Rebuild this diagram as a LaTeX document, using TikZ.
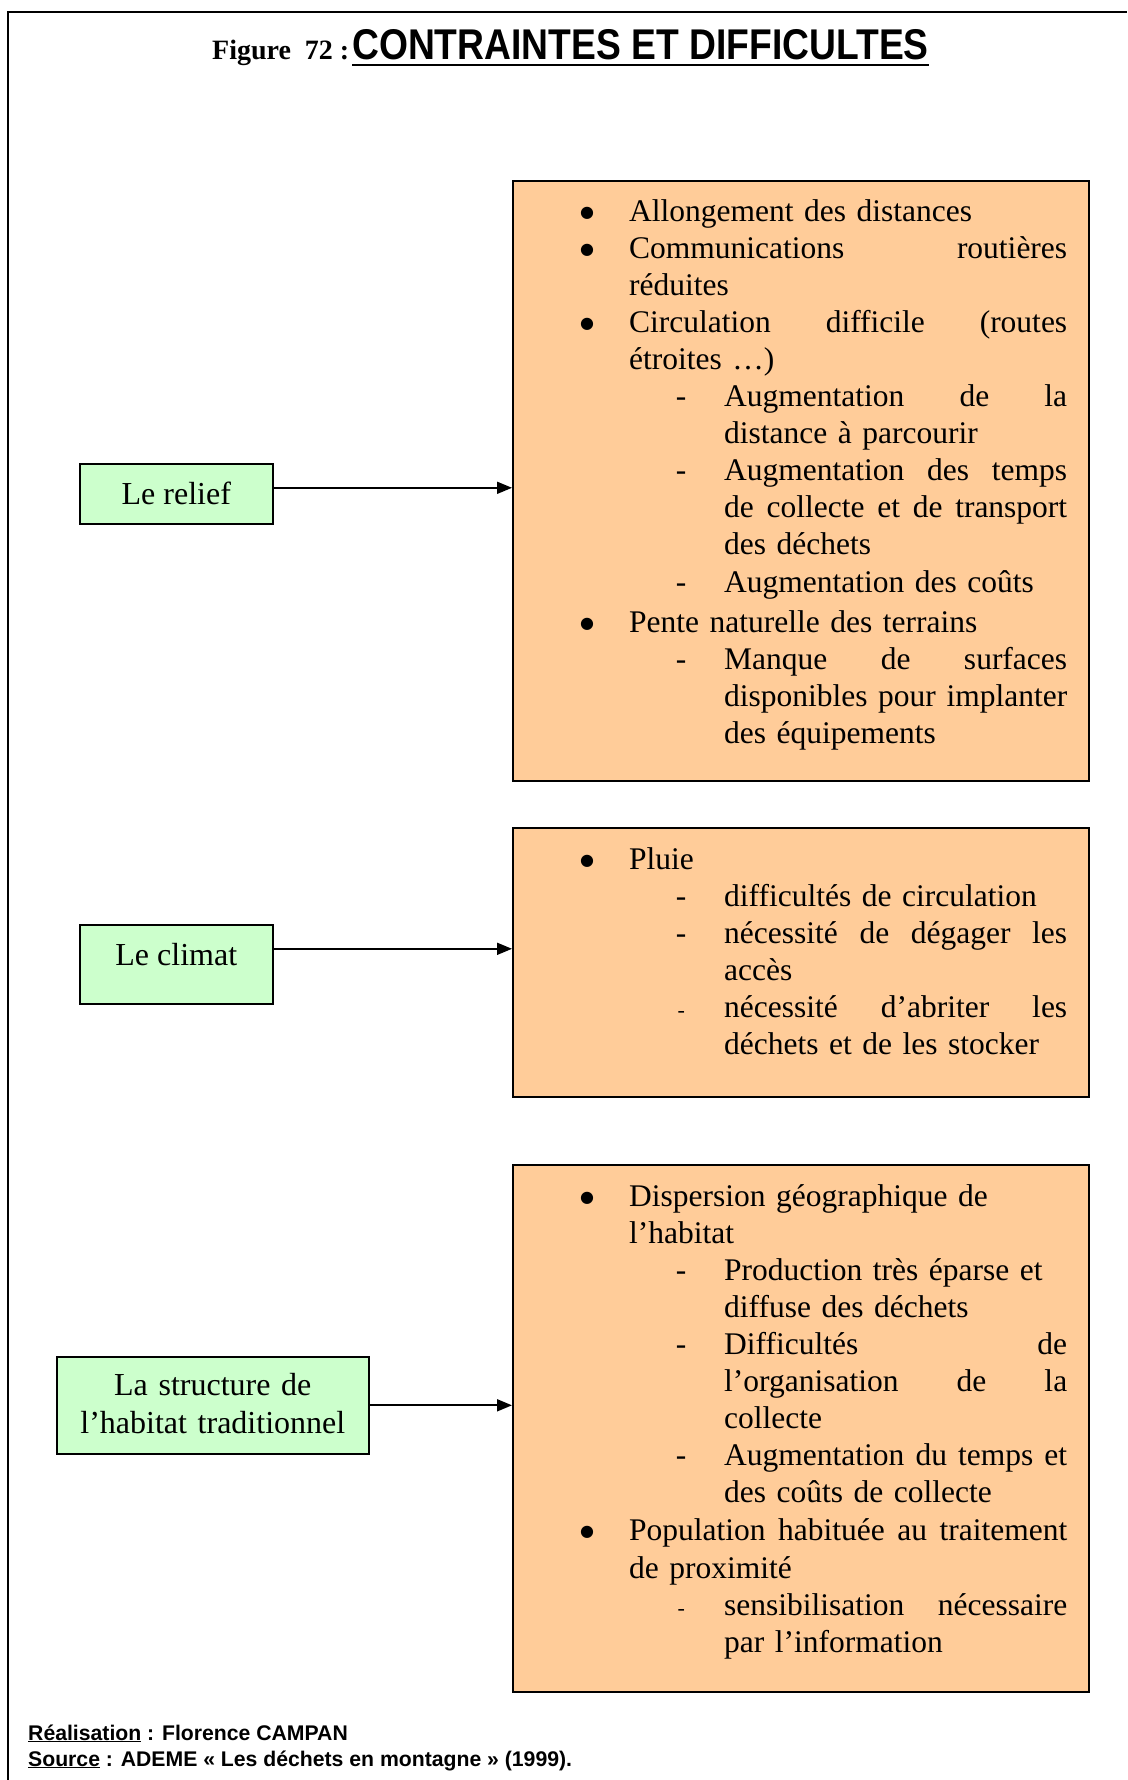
\documentclass[tikz,border=0pt]{standalone}
\usepackage{fontspec}
\setmainfont{Liberation Serif}
\setsansfont{Liberation Sans}
\newfontfamily\symfont{DejaVu Sans}
\usetikzlibrary{arrows.meta,calc}
\definecolor{orangefill}{HTML}{FFCC99}
\definecolor{greenfill}{HTML}{CCFFCC}
\newcommand\Bul{\makebox[0pt][l]{\hspace*{75pt}\makebox[0pt]{\raisebox{4pt}{\symfont\fontsize{16}{16}\selectfont ●}}}\hspace*{117pt}}
\newcommand\Ind{\hspace*{117pt}}
\newcommand\Dsh{\makebox[0pt][l]{\hspace*{169pt}\makebox[0pt]{-}}\hspace*{212pt}}
\newcommand\Dshs{\makebox[0pt][l]{\hspace*{169pt}\makebox[0pt]{\fontsize{22}{22}\selectfont -}}\hspace*{212pt}}
\newcommand\IInd{\hspace*{212pt}}
\newcommand\JA[1]{\hbox to 438pt{#1}}
\newcommand\JB[1]{\hbox to 343pt{#1}}
\newcommand\hf{\hfill\ }
\tikzset{
  obox/.style={draw=black, line width=1.6pt, fill=orangefill, anchor=north west, inner sep=0pt},
  gbox/.style={draw=black, line width=1.6pt, fill=greenfill, anchor=north west, inner sep=0pt},
  body/.style={inner sep=0pt, anchor=base west, text width=576pt,
    font=\fontsize{31.5}{37.1}\selectfont\setlength{\lineskiplimit}{-20pt}},
  gtxt/.style={inner sep=0pt, anchor=base, font=\fontsize{32}{38}\selectfont},
  arr/.style={-{Triangle[length=15pt,width=12pt]}, line width=1.8pt},
  foot/.style={inner sep=0pt, anchor=base west, font=\sffamily\bfseries\fontsize{21.2}{24}\selectfont}
}
\begin{document}
\begin{tikzpicture}[x=1pt,y=1pt]
\useasboundingbox (0,0) rectangle (1127,-1780);
% frame
\draw[line width=2pt] (8,-1780) -- (8,-12) -- (1127,-12);
% title
\node[inner sep=0pt, anchor=base west, font=\bfseries\fontsize{28}{30}\selectfont] (fig) at (212,-59) {Figure\ \ 72 :};
\node[inner sep=0pt, anchor=base west, font=\sffamily\bfseries\fontsize{43}{45}\selectfont] (ttl) at (352,-59) {\scalebox{0.866}[1]{CONTRAINTES ET DIFFICULTES}};
\draw[line width=2.6pt] ([yshift=-6pt]ttl.base west) -- ([yshift=-6pt]ttl.base east);
% orange boxes
\node[obox, minimum width=576pt, minimum height=600pt] (b1) at (512,-180) {};
\node[obox, minimum width=576pt, minimum height=269pt] (b2) at (512,-827) {};
\node[obox, minimum width=576pt, minimum height=527pt] (b3) at (512,-1164) {};
\node[body] (t1) at ([yshift=-41pt]b1.north west) {%
\Bul Allongement des distances\\
\Bul\JA{Communications\hf routières}\\
\Ind réduites\\
\Bul\JA{Circulation\hf difficile\hf (routes}\\
\Ind étroites …)\\
\Dsh\JB{Augmentation\hf de\hf la}\\
\IInd distance à parcourir\\
\Dsh\JB{Augmentation\hf des\hf temps}\\
\IInd\JB{de\hf collecte\hf et\hf de\hf transport}\\
\IInd des déchets\\
\Dsh Augmentation des coûts\\[3pt]
\Bul Pente naturelle des terrains\\
\Dsh\JB{Manque\hf de\hf surfaces}\\
\IInd\JB{disponibles\hf pour\hf implanter}\\
\IInd des équipements};
\node[body] (t2) at ([yshift=-42pt]b2.north west) {%
\Bul Pluie\\
\Dsh difficultés de circulation\\
\Dsh\JB{nécessité\hf de\hf dégager\hf les}\\
\IInd accès\\
\Dshs\JB{nécessité\hf d’abriter\hf les}\\
\IInd déchets et de les stocker};
\node[body] (t3) at ([yshift=-42pt]b3.north west) {%
\Bul Dispersion géographique de\\
\Ind l’habitat\\
\Dsh Production très éparse et\\
\IInd diffuse des déchets\\
\Dsh\JB{Difficultés\hf de}\\
\IInd\JB{l’organisation\hf de\hf la}\\
\IInd collecte\\
\Dsh\JB{Augmentation\hf du\hf temps\hf et}\\
\IInd des coûts de collecte\\[1pt]
\Bul\JA{Population\hf habituée\hf au\hf traitement}\\
\Ind de proximité\\
\Dshs\JB{sensibilisation\hf nécessaire}\\
\IInd par l’information};
% green boxes
\node[gbox, minimum width=193pt, minimum height=60pt] (g1) at (79,-463) {};
\node[gbox, minimum width=193pt, minimum height=79pt] (g2) at (79,-924) {};
\node[gbox, minimum width=312pt, minimum height=97pt] (g3) at (56,-1356) {};
\node[gtxt] (g1t) at ([yshift=-41pt]g1.north) {Le relief};
\node[gtxt] (g2t) at ([yshift=-41pt]g2.north) {Le climat};
\node[gtxt, text width=312pt, align=center] (g3t) at ([yshift=-39pt]g3.north) {La structure de\\l’habitat traditionnel};
% arrows
\draw[arr] ([yshift=6pt]g1.east) -- ([yshift=6pt]g1.east -| b1.west);
\draw[arr] ([yshift=15.5pt]g2.east) -- ([yshift=15.5pt]g2.east -| b2.west);
\draw[arr] (g3.east) -- (g3.east -| b3.west);
% footer
\node[foot] (f1) at (28,-1740) {\underline{Réalisation} : Florence CAMPAN};
\node[foot] (f2) at (28,-1766) {\underline{Source} : ADEME « Les déchets en montagne » (1999).};
\end{tikzpicture}
\end{document}
